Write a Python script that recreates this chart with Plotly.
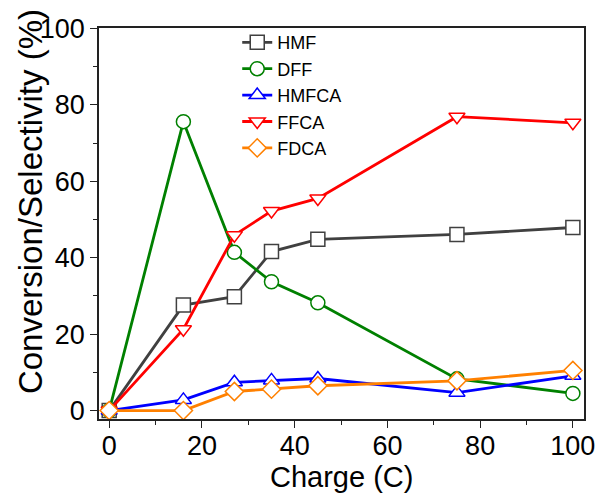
import plotly.graph_objects as go

charge = [0, 16, 27, 35, 45, 75, 100]
hmf = [0, 27.6, 29.8, 41.6, 44.8, 46.1, 47.9]
dff = [0, 75.6, 41.4, 33.7, 28.2, 8.3, 4.5]
hmfca = [0, 2.8, 7.4, 7.9, 8.4, 4.7, 9.1]
ffca = [0, 21.3, 45.9, 52.2, 55.5, 76.9, 75.3]
fdca = [0, 0, 5.0, 5.6, 6.5, 7.8, 10.5]

series = [
    ("HMF", hmf, "#404040", "square"),
    ("DFF", dff, "#008000", "circle"),
    ("HMFCA", hmfca, "#0000FF", "triangle-up"),
    ("FFCA", ffca, "#FF0000", "triangle-down"),
    ("FDCA", fdca, "#FF8000", "diamond"),
]

fig = go.Figure()
for name, vals, col, sym in series:
    fig.add_trace(go.Scatter(
        x=charge, y=vals, name=name, mode="lines+markers",
        line=dict(color=col, width=2.8),
        marker=dict(symbol=sym, size=14, color="white",
                    line=dict(color=col, width=1.5)),
    ))

font = "Liberation Sans, Arial, sans-serif"
axis_common = dict(
    showline=True, linecolor="#222222", linewidth=1.5, mirror=True,
    ticks="outside", ticklen=7, tickwidth=1.2, tickcolor="#222222",
    showgrid=False, zeroline=False,
    tickfont=dict(family=font, size=27, color="black"),
)
fig.update_xaxes(range=[-2.2, 102.4], tickvals=[0, 20, 40, 60, 80, 100],
                 minor=dict(tickvals=[10, 30, 50, 70, 90], ticks="outside", ticklen=4, tickcolor="#222222"),
                 ticklabelstandoff=-5, **axis_common)
fig.update_yaxes(range=[-2.2, 100.1], tickvals=[0, 20, 40, 60, 80, 100],
                 minor=dict(tickvals=[10, 30, 50, 70, 90], ticks="outside", ticklen=4, tickcolor="#222222"),
                 **axis_common)

fig.add_annotation(text="Conversion/Selectivity (%)", textangle=-90,
                   xref="paper", yref="paper", x=-0.14, y=0.555,
                   xanchor="center", yanchor="middle", showarrow=False,
                   font=dict(family=font, size=33, color="black"))
fig.add_annotation(text="Charge (C)",
                   xref="paper", yref="paper", x=0.5, y=-0.148,
                   xanchor="center", yanchor="middle", showarrow=False,
                   font=dict(family=font, size=29, color="black"))

fig.update_layout(
    width=605, height=497,
    margin=dict(l=99, r=21, t=28, b=78, autoexpand=False),
    plot_bgcolor="white", paper_bgcolor="white",
    legend=dict(x=0.285, y=1.01, xanchor="left", yanchor="top",
                bgcolor="rgba(0,0,0,0)", font=dict(family=font, size=18, color="black"),
                tracegroupgap=0),
    font=dict(family=font),
)

fig.write_html("out.html", config={"displayModeBar": False},
               post_script="document.body.style.margin='0px';document.body.style.padding='0px';")
